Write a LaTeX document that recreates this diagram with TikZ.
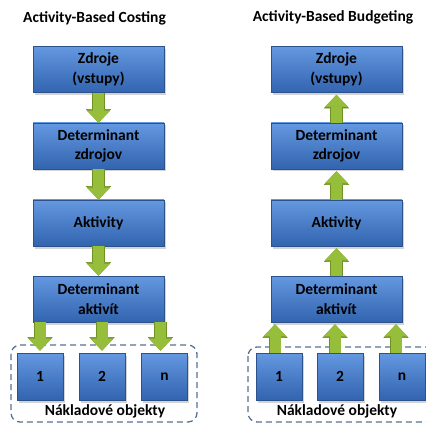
\documentclass[tikz,border=0pt]{standalone}
\usepackage{fontspec}
\setmainfont{Carlito}
\usetikzlibrary{arrows.meta,shadows}
\definecolor{boxtop}{RGB}{100,152,224}
\definecolor{boxbot}{RGB}{50,100,175}
\definecolor{boxedge}{RGB}{44,82,140}
\definecolor{arrowgreen}{RGB}{150,190,58}
\definecolor{arrowedge}{RGB}{110,145,35}
\definecolor{framecolor}{RGB}{88,112,148}

\tikzset{
  stage/.style={draw=boxedge,line width=0.6pt,top color=boxtop,bottom color=boxbot,
    minimum width=131pt,minimum height=46pt,inner sep=0pt,align=center,
    font=\fontsize{15.5}{19.5}\selectfont\bfseries,
    drop shadow={opacity=0.35,shadow xshift=1.5pt,shadow yshift=-2.5pt}},
  costobj/.style={stage,minimum width=46pt,minimum height=47pt},
  flow/.style={line width=11pt,arrowgreen,-{Triangle[width=23pt,length=12pt,line width=0.5pt]},
    preaction={draw,arrowedge,line width=12.5pt,-{Triangle[width=25pt,length=13.5pt,line width=0.5pt]}}},
  group/.style={draw=framecolor,line width=1.3pt,dash pattern=on 6pt off 4pt,rounded corners=9pt},
  heading/.style={font=\fontsize{15.5}{18}\selectfont\bfseries},
}

\begin{document}
\begin{tikzpicture}[x=1pt,y=-1pt]
\clip (0,0) rectangle (426,425);

% Activity-Based Costing
\node[heading] (titleL) at (94.5,18) {Activity-Based Costing};
\node[stage] (zdrojeL) at (98.5,69.5) {Zdroje\\(vstupy)};
\node[stage] (detzL) at (98.5,146) {Determinant\\zdrojov};
\node[stage] (aktL) at (98.5,223) {Aktivity};
\node[stage] (detaL) at (98.5,299) {Determinant\\aktivít};
\draw[group] (11,345) rectangle (197,422);
\node[costobj] (o1L) at (40,376.5) {1};
\node[costobj] (o2L) at (102,376.5) {2};
\node[costobj] (onL) at (164.5,376.5) {n};
\node[heading] (nakL) at (105,411) {Nákladové objekty};
\draw[flow] (zdrojeL) -- (detzL);
\draw[flow] (detzL) -- (aktL);
\draw[flow] (aktL) -- (detaL);
\draw[flow] (detaL.south -| o1L) -- ([yshift=2pt]o1L.north);
\draw[flow] (detaL.south -| o2L) -- ([yshift=2pt]o2L.north);
\draw[flow] ([xshift=-4pt]detaL.south -| onL) -- ([xshift=-4pt,yshift=2pt]onL.north);

% Activity-Based Budgeting
\node[heading] (titleR) at (333,17) {Activity-Based Budgeting};
\node[stage] (zdrojeR) at (336.5,69.5) {Zdroje\\(vstupy)};
\node[stage] (detzR) at (336.5,146) {Determinant\\zdrojov};
\node[stage] (aktR) at (336.5,223) {Aktivity};
\node[stage] (detaR) at (336.5,299) {Determinant\\aktivít};
\draw[group] (248,347) rectangle (440,422);
\node[costobj] (o1R) at (279,376.5) {1};
\node[costobj] (o2R) at (340,376.5) {2};
\node[costobj] (onR) at (402,376.5) {n};
\node[heading] (nakR) at (337,411) {Nákladové objekty};
\draw[flow] (detzR) -- ([yshift=-2pt]zdrojeR.south);
\draw[flow] (aktR) -- ([yshift=-2pt]detzR.south);
\draw[flow] (detaR) -- ([yshift=-2pt]aktR.south);
\draw[flow] ([xshift=-4pt]o1R.north) -- ([xshift=-4pt,yshift=-2pt]detaR.south -| o1R);
\draw[flow] ([xshift=-5pt]o2R.north) -- ([xshift=-5pt,yshift=-2pt]detaR.south -| o2R);
\draw[flow] ([xshift=-6pt]onR.north) -- ([xshift=-6pt,yshift=-2pt]detaR.south -| onR);
\end{tikzpicture}
\end{document}
